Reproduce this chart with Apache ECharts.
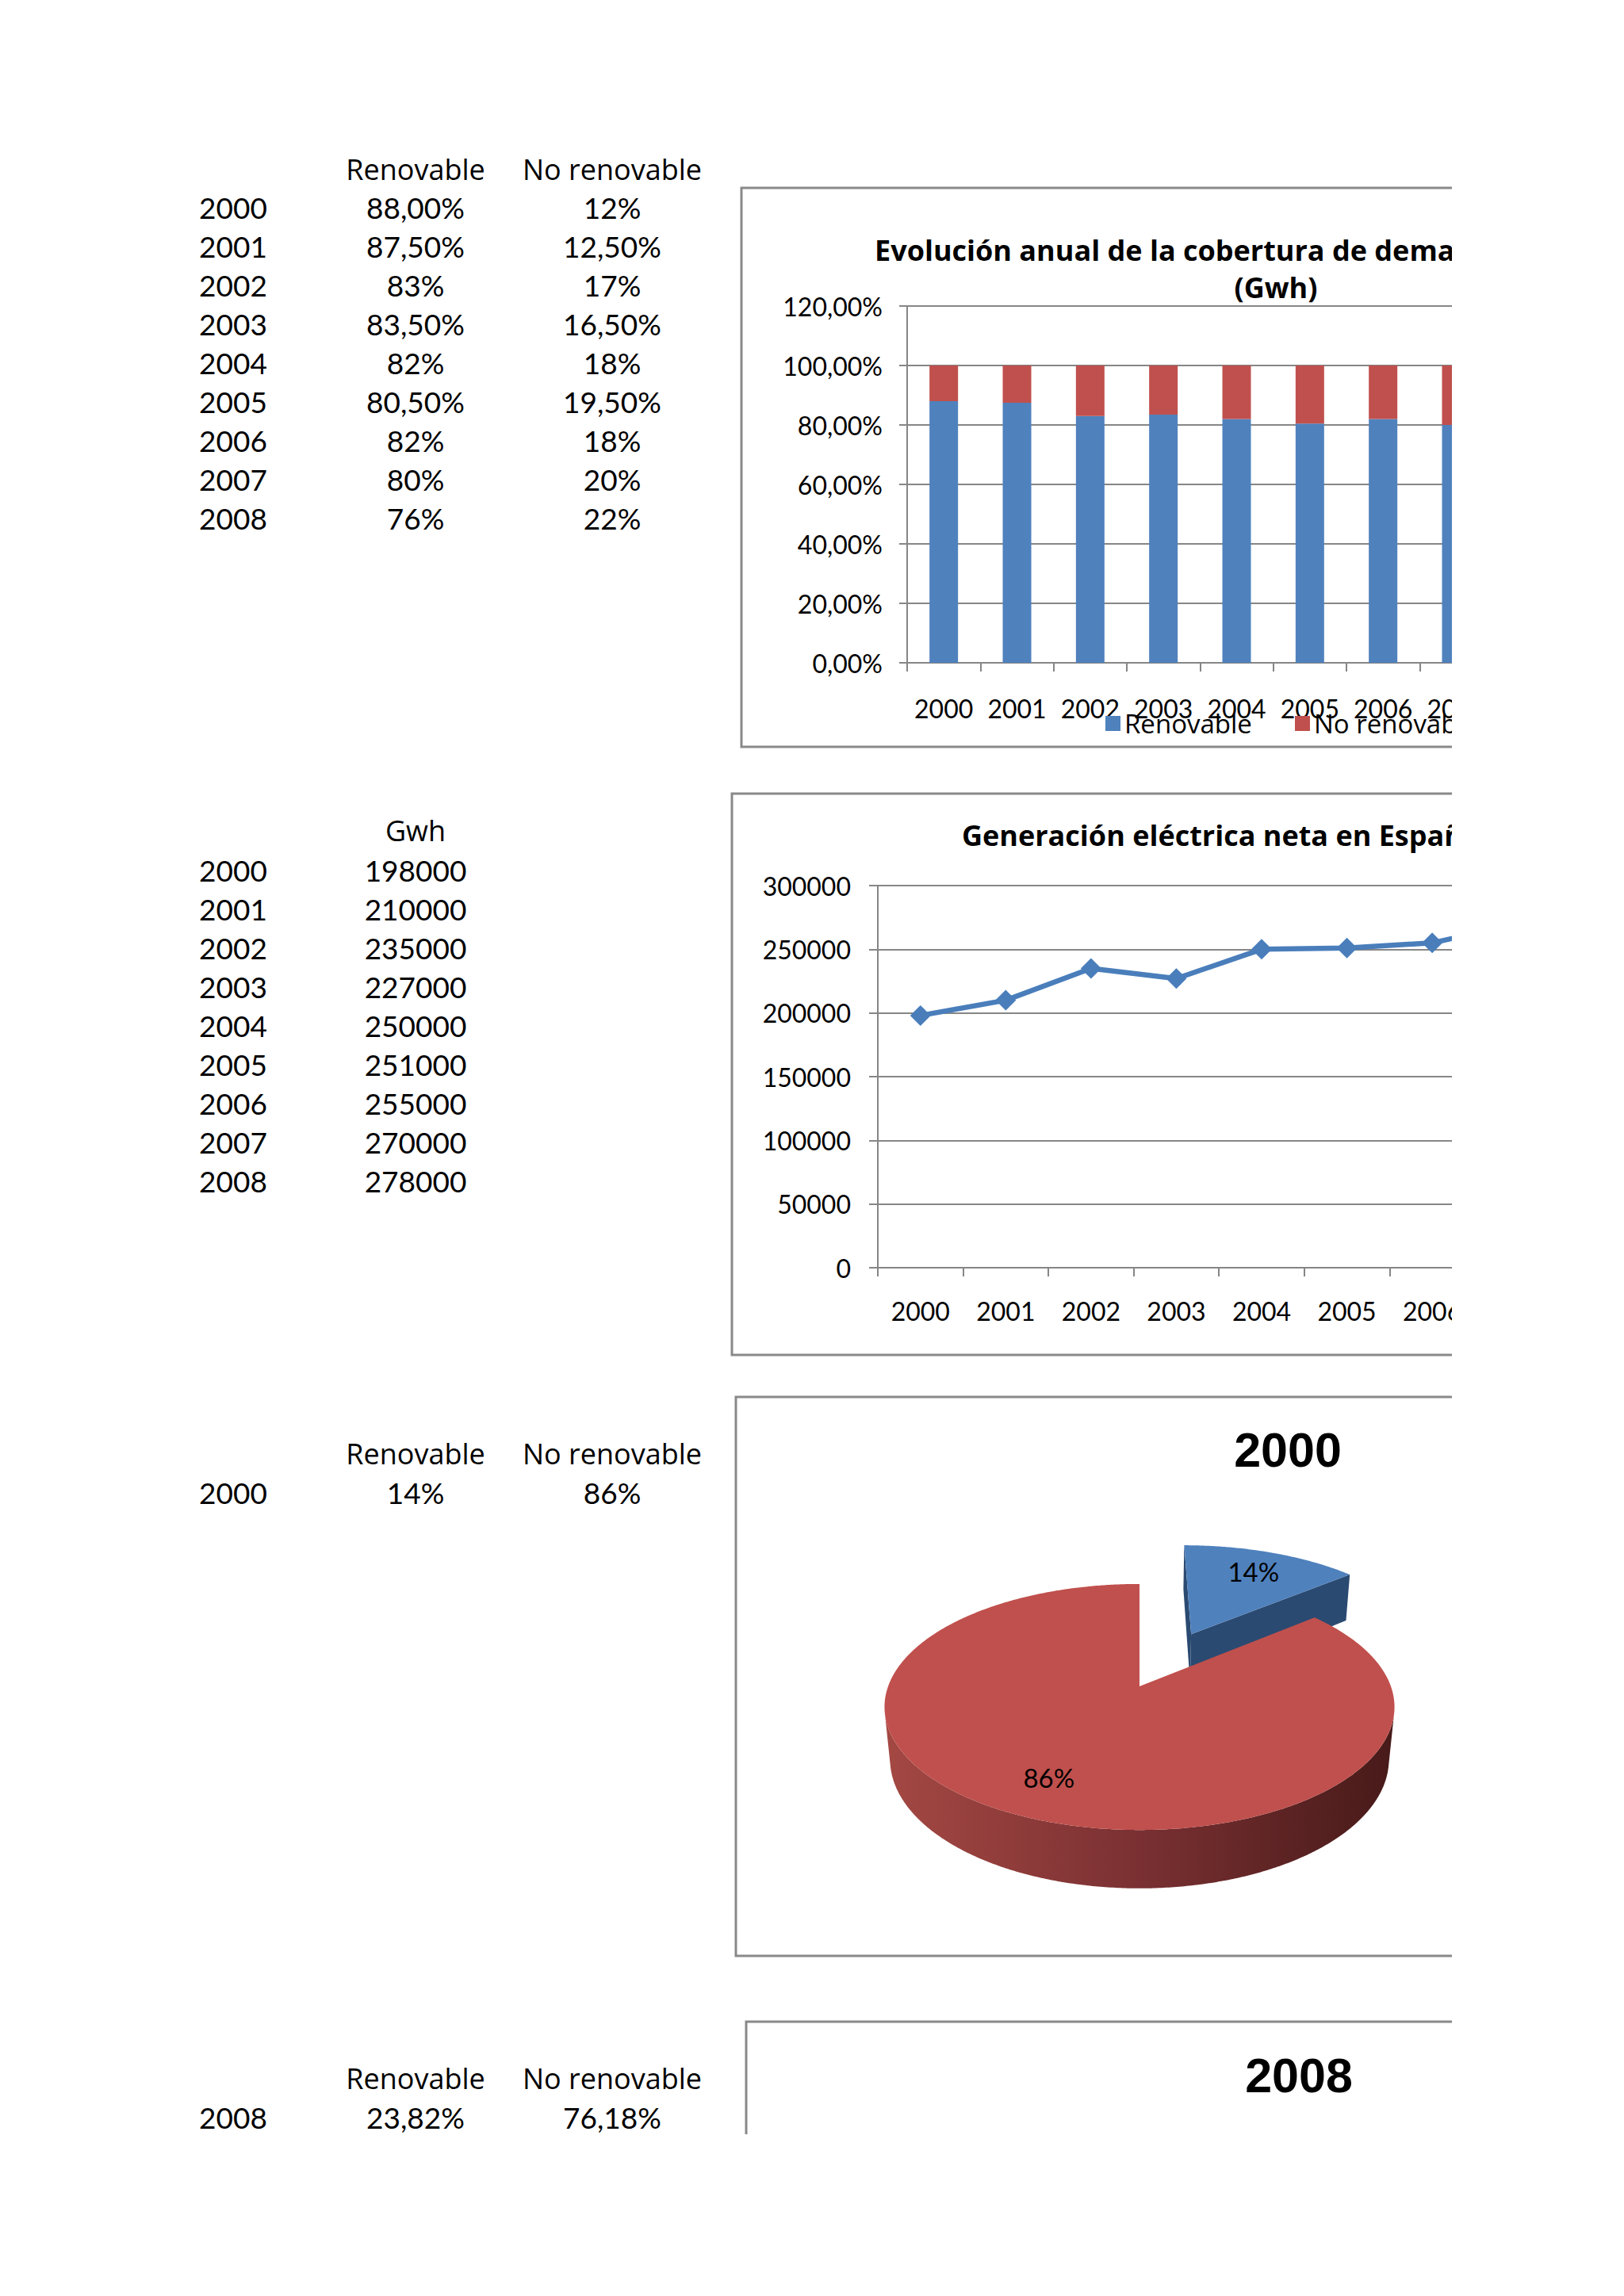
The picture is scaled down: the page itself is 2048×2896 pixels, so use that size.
<!DOCTYPE html>
<html>
<head>
<meta charset="utf-8">
<script src="https://cdn.jsdelivr.net/npm/echarts@6/dist/echarts.min.js"></script>
<style>
html,body{margin:0;padding:0;background:#fff;}
#c{position:absolute;left:0;top:0;width:1831px;height:2692px;}
</style>
</head>
<body>
<div id="c"></div>
<script>
// ---------- data ----------
const years = ['2000','2001','2002','2003','2004','2005','2006','2007','2008'];
const colHeaders = ['Renovable','No renovable'];
const renovablePct = [88, 87.5, 83, 83.5, 82, 80.5, 82, 80, 76];
const noRenovablePct = [12, 12.5, 17, 16.5, 18, 19.5, 18, 20, 22];
const renovableLabels = ['88,00%','87,50%','83%','83,50%','82%','80,50%','82%','80%','76%'];
const noRenovableLabels = ['12%','12,50%','17%','16,50%','18%','19,50%','18%','20%','22%'];
const gwhHeader = ['Gwh'];
const gwh = [198000, 210000, 235000, 227000, 250000, 251000, 255000, 270000, 278000];
const barTickLabels = ['0,00%','20,00%','40,00%','60,00%','80,00%','100,00%','120,00%'];
const lineTickLabels = ['0','50000','100000','150000','200000','250000','300000'];
const pieNames = ['Renovable','No renovable'];
const pie2000 = [14, 86];
const pie2000Labels = ['14%','86%'];
const pie2008 = [23.82, 76.18];
const pie2008Labels = ['23,82%','76,18%'];

// ---------- styles ----------
const FONT = 'Lato';          // digits
const WFONT = 'Open Sans';    // words
const TFONT = 'Open Sans';    // bold titles
const GRAY = '#868686';
const BLUE = '#4F81BD';
const RED = '#C0504D';
const PIE3D = {
  cx: 1437, cy: 2127, R: 317, H: 76, tilt: 28.4, D: 1663,
  explode: [165, 0], labelR: 0.75,
  top: ['#4F81BD', '#C0504D'],
  side: [[{offset:0,color:'#3A6494'},{offset:1,color:'#1F3654'}],
         [{offset:0,color:'#A44843'},{offset:0.5,color:'#7A3032'},{offset:1,color:'#471A19'}]],
  radial: ['#2B4A71', '#6E2826']
};

const chart = echarts.init(document.getElementById('c'), null, {renderer: 'svg', width: 1831, height: 2692});

function txt(text, x, y, o) {
  const st = Object.assign({
    text: text, fill: '#000', fontSize: 37, fontFamily: FONT, fontWeight: 'normal',
    textAlign: 'center', textVerticalAlign: 'middle', align: 'center', verticalAlign: 'middle'
  }, o || {});
  if (st.textAlign) st.align = st.textAlign;
  return {type: 'text', x: x, y: y, z: 10, silent: true, style: st};
}
function rect(x, y, w, h) {
  return {type: 'rect', z: 0, silent: true, shape: {x: x, y: y, width: w, height: h},
    style: {fill: 'none', stroke: '#898989', lineWidth: 3}};
}

const els = [];
// tables
function table(headers, headerY, rowY0, yrs, cols) {
  const centers = [524, 772];
  headers.forEach((h, i) => els.push(txt(h, centers[i], headerY, {fontFamily: WFONT, fontSize: 36})));
  yrs.forEach((yr, r) => {
    const y = rowY0 + r * 49.05;
    els.push(txt(yr, 251, y, {textAlign: 'left'}));
    cols.forEach((c, i) => els.push(txt(String(c[r]), centers[i], y)));
  });
}
table(colHeaders, 213, 261, years, [renovableLabels, noRenovableLabels]);
table(gwhHeader, 1047, 1097, years, [gwh]);
table(colHeaders, 1833, 1882, ['2000'], [[pie2000Labels[0]], [pie2000Labels[1]]]);
table(colHeaders, 2621, 2670, ['2008'], [[pie2008Labels[0]], [pie2008Labels[1]]]);

// chart boxes
els.push(rect(935, 237, 1300, 705));
els.push(rect(923, 1001, 1300, 708));
els.push(rect(928, 1762, 1300, 705));
els.push(rect(941, 2550, 1300, 600));

// titles
els.push(txt('Evolución anual de la cobertura de demanda eléctrica', 1103, 315, {textAlign: 'left', fontSize: 36, fontWeight: 'bold', fontFamily: TFONT}));
els.push(txt('(Gwh)', 1609, 362, {fontSize: 36, fontWeight: 'bold', fontFamily: TFONT}));
els.push(txt('Generación eléctrica neta en España', 1213, 1053, {textAlign: 'left', fontSize: 36, fontWeight: 'bold', fontFamily: TFONT}));
els.push(txt('2000', 1624, 1829, {fontSize: 61, fontWeight: 'bold', fontFamily: 'Liberation Sans'}));
els.push(txt('2008', 1638, 2618, {fontSize: 61, fontWeight: 'bold', fontFamily: 'Liberation Sans'}));

// ---------- 3D pie via custom series ----------
function renderPie(values) {
  return function (params, api) {
    const i = params.dataIndex;
    const total = values.reduce((a, b) => a + b, 0);
    let before = 0;
    for (let k = 0; k < i; k++) before += values[k];
    const v = api.value(0);
    const t1 = before / total * 2 * Math.PI, t2 = (before + v) / total * 2 * Math.PI;
    const a = PIE3D.tilt * Math.PI / 180, ca = Math.cos(a), sa = Math.sin(a);
    const D = PIE3D.D, R = PIE3D.R, H = PIE3D.H;
    const mid = (t1 + t2) / 2, E = PIE3D.explode[i] || 0;
    const ox = E * Math.sin(mid), oz = E * Math.cos(mid);
    const proj = (X, Y, Z) => { const yv = Y * ca + Z * sa, zv = Z * ca - Y * sa, s = D / (D + zv); return [PIE3D.cx + X * s, PIE3D.cy - yv * s]; };
    const rim = (t, Y) => proj(ox + R * Math.sin(t), Y, oz + R * Math.cos(t));
    const camZ = -D * ca;
    const children = [];
    // radial faces
    [[t1, -Math.cos(t1), Math.sin(t1)], [t2, Math.cos(t2), -Math.sin(t2)]].forEach(f => {
      const t = f[0], nx = f[1], nz = f[2];
      if ((-ox) * nx + (camZ - oz) * nz > 0) {
        children.push({type: 'polygon', silent: true, shape: {points: [proj(ox, 0, oz), rim(t, 0), rim(t, -H), proj(ox, -H, oz)]},
          style: {fill: PIE3D.radial[i]}});
      }
    });
    // outer wall
    const n = Math.max(2, Math.ceil((t2 - t1) / (Math.PI / 360)));
    let run = [];
    const flush = () => {
      if (run.length > 1) {
        const pts = run.map(t => rim(t, 0)).concat(run.slice().reverse().map(t => rim(t, -H)));
        children.push({type: 'polygon', silent: true, shape: {points: pts},
          style: {fill: {type: 'linear', x: 0, y: 0, x2: 1, y2: 0, colorStops: PIE3D.side[i]}}});
      }
      run = [];
    };
    for (let k = 0; k <= n; k++) {
      const t = t1 + (t2 - t1) * k / n;
      const X = ox + R * Math.sin(t), Z = oz + R * Math.cos(t);
      const vis = (-X * Math.sin(t) + (camZ - Z) * Math.cos(t)) > 0;
      if (vis) run.push(t); else flush();
    }
    flush();
    // top face
    const topPts = [proj(ox, 0, oz)];
    for (let k = 0; k <= n; k++) topPts.push(rim(t1 + (t2 - t1) * k / n, 0));
    children.push({type: 'polygon', silent: true, shape: {points: topPts}, style: {fill: PIE3D.top[i]}});
    // label
    const lp = proj(ox + PIE3D.labelR * R * Math.sin(mid), 0, oz + PIE3D.labelR * R * Math.cos(mid));
    children.push({type: 'text', z2: 100, silent: true, x: lp[0], y: lp[1],
      style: {text: Math.round(v / total * 100) + '%', fill: '#000', fontSize: 33, fontFamily: FONT,
        align: 'center', verticalAlign: 'middle', textAlign: 'center', textVerticalAlign: 'middle'}});
    return {type: 'group', children: children};
  };
}

const axisLineStyle = {color: GRAY, width: 2};
const labelStyle = {color: '#000', fontSize: 32, fontFamily: FONT};
const legendBase = {orient: 'horizontal', padding: 0, top: 896, width: 600,
  itemWidth: 19, itemHeight: 19, icon: 'rect',
  textStyle: {color: '#000', fontSize: 33, fontFamily: WFONT}};

const option = {
  animation: false,
  backgroundColor: '#fff',
  textStyle: {fontFamily: FONT},
  legend: [
    Object.assign({data: ['Renovable'], left: 1394}, legendBase),
    Object.assign({data: ['No renovable'], left: 1633}, legendBase)
  ],
  grid: [
    {left: 1144, top: 386, width: 831, height: 450, containLabel: false, outerBoundsMode: 'none'},
    {left: 1107, top: 1117, width: 968, height: 482, containLabel: false, outerBoundsMode: 'none'}
  ],
  xAxis: [
    {type: 'category', gridIndex: 0, data: years, boundaryGap: true,
      axisLine: {show: true, lineStyle: axisLineStyle},
      axisTick: {show: true, length: 11, alignWithLabel: false, interval: 0, lineStyle: axisLineStyle},
      axisLabel: Object.assign({interval: 0, margin: 41, hideOverlap: false}, labelStyle),
      splitLine: {show: false}},
    {type: 'category', gridIndex: 1, data: years, boundaryGap: true,
      axisLine: {show: true, lineStyle: axisLineStyle},
      axisTick: {show: true, length: 11, alignWithLabel: false, interval: 0, lineStyle: axisLineStyle},
      axisLabel: Object.assign({interval: 0, margin: 38, hideOverlap: false}, labelStyle),
      splitLine: {show: false}}
  ],
  yAxis: [
    {type: 'value', gridIndex: 0, min: 0, max: 120, interval: 20,
      axisLine: {show: true, lineStyle: axisLineStyle},
      axisTick: {show: true, length: 10, lineStyle: axisLineStyle},
      axisLabel: Object.assign({margin: 31, formatter: (val, idx) => barTickLabels[idx]}, labelStyle),
      splitLine: {show: true, lineStyle: axisLineStyle}},
    {type: 'value', gridIndex: 1, min: 0, max: 300000, interval: 50000,
      axisLine: {show: true, lineStyle: axisLineStyle},
      axisTick: {show: true, length: 11, lineStyle: axisLineStyle},
      axisLabel: Object.assign({margin: 34, formatter: (val, idx) => lineTickLabels[idx]}, labelStyle),
      splitLine: {show: true, lineStyle: axisLineStyle}}
  ],
  series: [
    {name: 'Renovable', type: 'bar', xAxisIndex: 0, yAxisIndex: 0, stack: 'cov', data: renovablePct,
      barWidth: 36, itemStyle: {color: BLUE}},
    {name: 'No renovable', type: 'bar', xAxisIndex: 0, yAxisIndex: 0, stack: 'cov', data: noRenovablePct,
      barWidth: 36, itemStyle: {color: RED}},
    {name: 'Gwh', type: 'line', xAxisIndex: 1, yAxisIndex: 1, data: gwh,
      symbol: 'diamond', symbolSize: 26, showAllSymbol: true,
      lineStyle: {color: '#4A7EBB', width: 6.5}, itemStyle: {color: '#4A7EBB'}},
    {name: 'Pie 2000', type: 'custom', coordinateSystem: 'none', silent: true,
      renderItem: renderPie(pie2000),
      data: pie2000.map((v, i) => ({name: pieNames[i], value: v}))}
  ],
  graphic: {elements: els}
};
chart.setOption(option);
</script>
</body>
</html>
